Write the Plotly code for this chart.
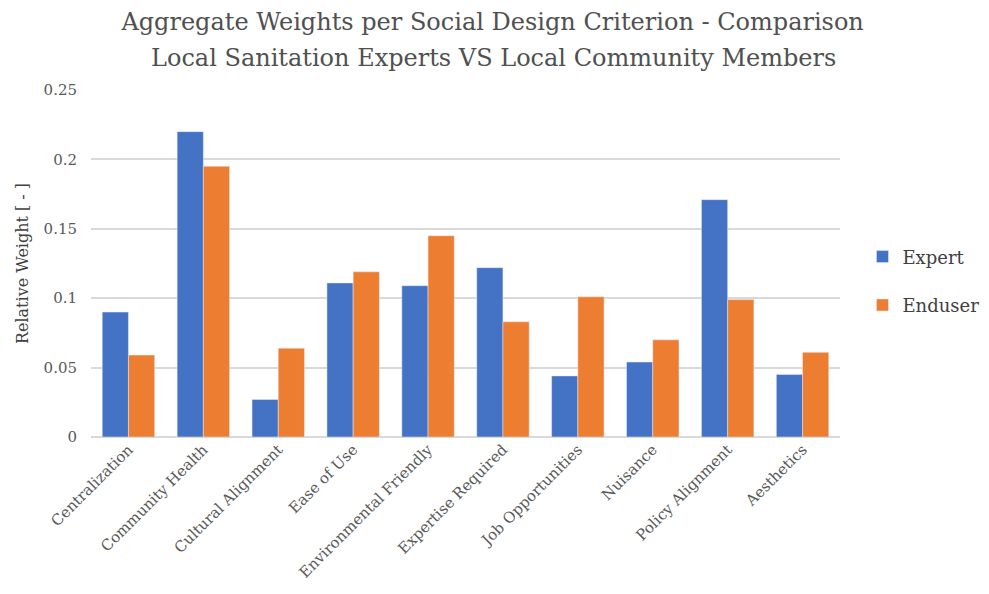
import plotly.graph_objects as go

categories = ["Centralization", "Community Health", "Cultural Alignment", "Ease of Use",
              "Environmental Friendly", "Expertise Required", "Job Opportunities",
              "Nuisance", "Policy Alignment", "Aesthetics"]
expert = [0.090, 0.220, 0.027, 0.111, 0.109, 0.122, 0.044, 0.054, 0.171, 0.045]
enduser = [0.059, 0.195, 0.064, 0.119, 0.145, 0.083, 0.101, 0.070, 0.099, 0.061]
y_ticks = [0, 0.05, 0.1, 0.15, 0.2, 0.25]
y_tick_labels = ["0", "0.05", "0.1", "0.15", "0.2", "0.25"]
title_line1 = "Aggregate Weights per Social Design Criterion - Comparison"
title_line2 = "Local Sanitation Experts VS Local Community Members"

FONT = "DejaVu Serif, Liberation Serif, serif"
TITLE_COLOR = "#505050"

fig = go.Figure()
fig.add_trace(go.Bar(x=categories, y=expert, name="Expert", marker_color="#4472C4",
                     legendgroup="a"))
fig.add_trace(go.Bar(x=categories, y=enduser, name="Enduser", marker_color="#ED7D31",
                     legendgroup="b"))

# page body has an 8px margin; compensate so the plot lands where the reference has it
fig.update_layout(
    width=981, height=586,
    margin=dict(l=83, r=149, t=82, b=157, autoexpand=False),
    plot_bgcolor="white", paper_bgcolor="white",
    barmode="group", bargap=0.3, bargroupgap=0,
    title=dict(text=title_line1, x=0.494, xanchor="center", xref="container",
               y=0.976, yanchor="middle", yref="container",
               font=dict(family=FONT, size=24, color=TITLE_COLOR)),
    annotations=[dict(text=title_line2, x=0.537, xref="paper", xanchor="center",
                      y=1.092, yref="paper", yanchor="middle", showarrow=False,
                      font=dict(family=FONT, size=24, color=TITLE_COLOR))],
    font=dict(family=FONT, color="#595959"),
    legend=dict(x=1.03, xanchor="left", y=0.45, yanchor="middle",
                font=dict(family=FONT, size=18, color="#404040"),
                traceorder="grouped", tracegroupgap=22),
    xaxis=dict(tickangle=-45, tickfont=dict(family=FONT, size=15, color="#595959"),
               showgrid=False, showline=False, ticks=""),
    yaxis=dict(range=[0, 0.25], tickvals=y_ticks, ticktext=y_tick_labels,
               tickfont=dict(family=FONT, size=15, color="#595959"),
               showgrid=True, gridcolor="#D9D9D9", gridwidth=1.5,
               zeroline=True, zerolinecolor="#D9D9D9", zerolinewidth=1.5,
               ticks="outside", ticklen=10, tickcolor="white",
               title=dict(text="Relative Weight [ - ]", font=dict(family=FONT, size=16, color="#404040"),
                          standoff=10)),
)

fig.write_html("out.html")
